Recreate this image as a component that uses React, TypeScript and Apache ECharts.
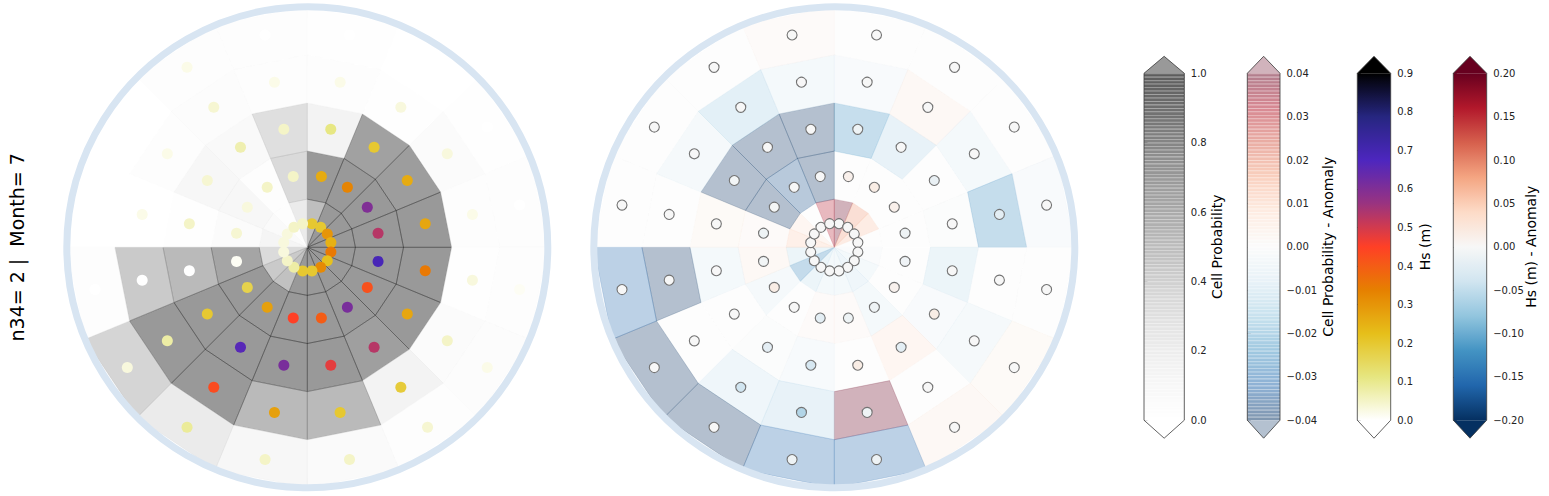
import React, { useEffect, useRef } from "react";
import * as echarts from "echarts";

// ---------------- data (sectors clockwise from north, 22.5° each; rings inner -> outer) --------------
const SECTORS = 16;
const SECTOR_DEG = 360 / SECTORS;

// Cell probability (left panel)
const probRing0 = [0.71, 1, 1, 1, 1, 1, 1, 1, 1, 0.68, 0.6, 0.45, 0.18, 0.1, 0.04, 0.3];
const probRing1 = [1, 1, 1, 1, 1, 1, 1, 1, 1, 1, 1, 0.9, 0.08, 0.16, 0.03, 0.46];
const probRing2 = [0.2, 0.93, 0.97, 1, 1, 1, 0.95, 1, 1, 1, 1, 0.75, 0.02, 0.16, 0.12, 0.42];
const probRing3 = [0.03, 0.02, 0.08, 0.05, 0.02, 0.08, 0.2, 0.75, 0.75, 1, 1, 0.6, 0.01, 0.03, 0.06, 0.03];
const probRing4 = [0.02, 0.01, 0.02, 0.05, 0.03, 0.06, 0.05, 0.1, 0.16, 0.3, 0.5, 0.04, 0.01, 0.01, 0.03, 0.03];

// Hs (m) (left panel dots)
const hsRing0 = [0.2, 0.2, 0.3, 0.25, 0.35, 0.22, 0.32, 0.2, 0.2, 0.08, 0.05, 0.03, 0.03, 0.03, 0.05, 0.05];
const hsRing1 = [0.26, 0.33, 0.6, 0.53, 0.69, 0.42, 0.61, 0.4, 0.45, 0.28, 0.17, 0.01, 0.04, 0.03, 0.05, 0.05];
const hsRing2 = [0.11, 0.2, 0.26, 0.27, 0.35, 0.27, 0.53, 0.48, 0.61, 0.66, 0.2, 0.0, 0.05, 0.04, 0.07, 0.05];
const hsRing3 = [0.02, 0.03, 0.03, 0.02, 0.03, 0.05, 0.19, 0.2, 0.28, 0.43, 0.08, 0.0, 0.02, 0.02, 0.04, 0.02];
const hsRing4 = [0, 0, 0, 0, 0.01, 0.02, 0.04, 0.05, 0.05, 0.09, 0.03, 0.0, 0, 0, 0.02, 0];

// Cell probability anomaly (right panel)
const anomRing0 = [0.04, 0.018, 0.012, 0, -0.002, -0.006, -0.009, -0.006, -0.006, -0.01, -0.026, -0.01, 0.01, 0.006, 0, 0.032];
const anomRing1 = [0, 0, 0, 0, 0, 0, -0.006, 0.002, 0.002, 0, -0.005, 0.004, 0.002, -0.04, -0.036, -0.04];
const anomRing2 = [-0.024, -0.012, 0, -0.001, -0.01, -0.003, 0.006, 0, -0.004, -0.001, 0, -0.006, 0.003, -0.04, -0.04, -0.04];
const anomRing3 = [-0.003, 0.004, -0.006, -0.025, 0, -0.005, 0, 0.04, -0.012, -0.009, 0, -0.04, 0, -0.005, -0.014, -0.006];
const anomRing4 = [0, 0, 0, -0.003, 0, 0.003, 0.004, -0.032, -0.032, -0.04, -0.04, -0.032, 0, 0, 0, 0.002];

// Hs anomaly (right panel dots)
const dHsRing0 = [0, 0, 0, 0, 0, 0, 0, 0, 0, 0, 0, 0, 0, 0, 0, 0];
const dHsRing1 = [0.01, 0.015, 0.01, -0.01, -0.008, 0.008, -0.01, -0.01, -0.02, 0, 0.015, -0.005, -0.01, -0.003, 0, 0];
const dHsRing2 = [-0.01, 0, -0.015, 0, 0, 0.015, -0.02, 0.015, -0.035, -0.02, 0, 0, 0, -0.005, 0, 0];
const dHsRing3 = [0, 0, 0, -0.02, 0, 0, 0, -0.01, -0.06, -0.04, 0, 0, 0, 0, 0, 0];
const dHsRing4 = [0, 0, 0, 0, 0, 0, 0, -0.01, -0.01, 0, 0, 0, 0, 0, 0, 0];

const probRings = [probRing0, probRing1, probRing2, probRing3, probRing4];
const hsRings = [hsRing0, hsRing1, hsRing2, hsRing3, hsRing4];
const anomRings = [anomRing0, anomRing1, anomRing2, anomRing3, anomRing4];
const dHsRings = [dHsRing0, dHsRing1, dHsRing2, dHsRing3, dHsRing4];

// colour scales
const GREYS = ["#ffffff", "#f0f0f0", "#d9d9d9", "#bdbdbd", "#969696", "#737373", "#525252", "#252525", "#000000"];
const CMRMAP_R = ["#ffffff", "#e6e680", "#e6bf1a", "#e68000", "#ff4026", "#993380", "#4d26bf", "#262680", "#000000"];
const RDBU_R = ["#053061", "#2166ac", "#4393c3", "#92c5de", "#d1e5f0", "#f7f7f7", "#fddbc7", "#f4a582", "#d6604d", "#b2182b", "#67001f"];

const TITLE = "n34= 2 |  Month= 7";

// ---------------- helpers ----------------
function hexToRgb(h: string) {
  const n = parseInt(h.slice(1), 16);
  return [(n >> 16) & 255, (n >> 8) & 255, n & 255];
}
function sample(stops: string[], t: number) {
  const tt = Math.max(0, Math.min(1, t));
  const pos = tt * (stops.length - 1);
  const i = Math.min(Math.floor(pos), stops.length - 2);
  const f = pos - i;
  const a = hexToRgb(stops[i]);
  const b = hexToRgb(stops[i + 1]);
  return a.map((v, k) => v + (b[k] - v) * f);
}
function blend(rgb: number[], a: number) {
  return rgb.map((v) => 255 - a * (255 - v));
}
function css(rgb: number[]) {
  return `rgb(${rgb.map((v) => Math.round(v)).join(",")})`;
}

function cellData(rings: number[][]) {
  const out: number[][] = [];
  rings.forEach((vals, j) => vals.forEach((v, k) => out.push([j, k * SECTOR_DEG, v])));
  return out;
}
function dotData(rings: number[][]) {
  const out: number[][] = [];
  rings.forEach((vals, j) => vals.forEach((v, k) => out.push([j + 0.5, k * SECTOR_DEG + SECTOR_DEG / 2, v])));
  return out;
}

function cellRenderer(alpha: number) {
  return (params: any, api: any) => {
    const r0 = api.value(0);
    const a0 = api.value(1);
    const r1 = r0 + 1;
    const a1 = a0 + SECTOR_DEG;
    const pts = [api.coord([r0, a0]), api.coord([r1, a0]), api.coord([r1, a1]), api.coord([r0, a1])];
    const c = echarts.color.modifyAlpha(api.visual("color"), alpha);
    return {
      type: "polygon",
      shape: { points: pts },
      style: { fill: c, stroke: c, lineWidth: 0.6 },
    };
  };
}

// ---------------- layout (page pixel coordinates; the chart div is fixed at 0,0) ----------------
const POLAR_RADIUS = 240.5;
const LEFT_CENTER = [307.3, 247.3];
const RIGHT_CENTER = [834.3, 247.3];
const CB_TOP = 73.3;
const CB_BOT = 420.2;
const TRI_UP = 17;
const TRI_DN = 18;
const FONT = "DejaVu Sans";

type CB = {
  x: number; w: number; stops: string[]; alpha: number | null; label: string; labelX: number;
  min: number; max: number; interval: number; dec: number;
};
const colorbars: CB[] = [
  { x: 1144, w: 40.3, stops: GREYS, alpha: 0.4, label: "Cell Probability", labelX: 1217, min: 0, max: 1, interval: 0.2, dec: 1 },
  { x: 1247.3, w: 32.7, stops: RDBU_R, alpha: 0.3, label: "Cell Probability - Anomaly", labelX: 1328, min: -0.04, max: 0.04, interval: 0.01, dec: 2 },
  { x: 1357.3, w: 33.4, stops: CMRMAP_R, alpha: null, label: "Hs (m)", labelX: 1425, min: 0, max: 0.9, interval: 0.1, dec: 1 },
  { x: 1453.3, w: 33.4, stops: RDBU_R, alpha: null, label: "Hs (m) - Anomaly", labelX: 1531, min: -0.2, max: 0.2, interval: 0.05, dec: 2 },
];

function colorbarGraphics(cb: CB) {
  const els: any[] = [];
  const x0 = cb.x;
  const x1 = cb.x + cb.w;
  const xm = (x0 + x1) / 2;
  const H = CB_BOT - CB_TOP;
  if (cb.alpha !== null) {
    const a = cb.alpha;
    const a2 = 1 - (1 - a) * (1 - a);
    const N = 100;
    const bh = H / N;
    for (let i = 0; i < N; i++) {
      const t = (i + 0.5) / N;
      const yTop = CB_BOT - (i + 1) * bh;
      const base = sample(cb.stops, t);
      els.push({ type: "rect", z: 100, silent: true, shape: { x: x0, y: yTop, width: cb.w, height: bh + 0.05 }, style: { fill: css(blend(base, a2)) } });
      els.push({ type: "rect", z: 101, silent: true, shape: { x: x0, y: yTop, width: cb.w, height: 0.9 }, style: { fill: css(blend(base, a)) } });
    }
    els.push({ type: "polygon", z: 100, silent: true, shape: { points: [[x0, CB_TOP], [xm, CB_TOP - TRI_UP], [x1, CB_TOP]] }, style: { fill: css(blend(sample(cb.stops, 1), a)) } });
    els.push({ type: "polygon", z: 100, silent: true, shape: { points: [[x0, CB_BOT], [xm, CB_BOT + TRI_DN], [x1, CB_BOT]] }, style: { fill: css(blend(sample(cb.stops, 0), a)) } });
  } else {
    const colorStops = [];
    const M = 40;
    for (let i = 0; i <= M; i++) colorStops.push({ offset: i / M, color: css(sample(cb.stops, i / M)) });
    els.push({ type: "rect", z: 100, silent: true, shape: { x: x0, y: CB_TOP, width: cb.w, height: H }, style: { fill: new echarts.graphic.LinearGradient(0, 1, 0, 0, colorStops) } });
    els.push({ type: "polygon", z: 100, silent: true, shape: { points: [[x0, CB_TOP], [xm, CB_TOP - TRI_UP], [x1, CB_TOP]] }, style: { fill: cb.stops[cb.stops.length - 1] } });
    els.push({ type: "polygon", z: 100, silent: true, shape: { points: [[x0, CB_BOT], [xm, CB_BOT + TRI_DN], [x1, CB_BOT]] }, style: { fill: cb.stops[0] } });
  }
  els.push({
    type: "polygon", z: 102, silent: true,
    shape: { points: [[x0, CB_TOP], [xm, CB_TOP - TRI_UP], [x1, CB_TOP], [x1, CB_BOT], [xm, CB_BOT + TRI_DN], [x0, CB_BOT]] },
    style: { fill: "none", stroke: "#3a3a3a", lineWidth: 0.8 },
  });
  els.push({
    type: "text", z: 102, silent: true, x: cb.labelX, y: (CB_TOP + CB_BOT) / 2, rotation: Math.PI / 2,
    style: { text: cb.label, fontSize: 14, fontFamily: FONT, fill: "#000", align: "center", verticalAlign: "middle", textAlign: "center", textVerticalAlign: "middle" },
  });
  return els;
}

function tickFormatter(dec: number) {
  return (v: number) => {
    const s = Math.abs(v).toFixed(dec);
    return (v < -1e-9 && Number(s) !== 0 ? "\u2212" : "") + s;
  };
}

function buildOption() {
  const angleAxisBase = {
    type: "value", min: 0, max: 360, startAngle: 90, clockwise: true, z: 10,
    axisLine: { show: true, lineStyle: { color: "#d8e5f2", width: 7 } },
    axisTick: { show: false }, axisLabel: { show: false }, splitLine: { show: false }, splitArea: { show: false },
  };
  const radiusAxisBase = {
    type: "value", min: 0, max: 5,
    axisLine: { show: false }, axisTick: { show: false }, axisLabel: { show: false }, splitLine: { show: false }, splitArea: { show: false },
  };

  const grids = colorbars.map((cb) => ({ left: cb.x, top: CB_TOP, width: cb.w, height: CB_BOT - CB_TOP }));
  const xAxes = colorbars.map((_, i) => ({ gridIndex: i, type: "value", show: false, min: 0, max: 1 }));
  const yAxes = colorbars.map((cb, i) => ({
    gridIndex: i, type: "value", position: "right", min: cb.min, max: cb.max, interval: cb.interval,
    axisLine: { show: false },
    axisTick: { show: true, inside: false, length: 3.5, lineStyle: { color: "#222", width: 0.8 } },
    axisLabel: { show: true, margin: 6.5, color: "#222", fontSize: 10, fontFamily: FONT, formatter: tickFormatter(cb.dec) },
    splitLine: { show: false },
  }));

  const graphics: any[] = [];
  colorbars.forEach((cb) => graphics.push(...colorbarGraphics(cb)));
  graphics.push({
    type: "text", x: 17, y: 247.3, rotation: Math.PI / 2, silent: true,
    style: { text: TITLE, fontSize: 19, fontFamily: FONT, fill: "#000", align: "center", verticalAlign: "middle", textAlign: "center", textVerticalAlign: "middle" },
  });

  return {
    animation: false,
    backgroundColor: "#ffffff",
    polar: [
      { center: LEFT_CENTER, radius: POLAR_RADIUS },
      { center: RIGHT_CENTER, radius: POLAR_RADIUS },
    ],
    angleAxis: [
      { ...angleAxisBase, polarIndex: 0 },
      { ...angleAxisBase, polarIndex: 1 },
    ],
    radiusAxis: [
      { ...radiusAxisBase, polarIndex: 0 },
      { ...radiusAxisBase, polarIndex: 1 },
    ],
    grid: grids,
    xAxis: xAxes,
    yAxis: yAxes,
    visualMap: [
      { type: "continuous", show: false, seriesIndex: 0, dimension: 2, min: 0, max: 1, inRange: { color: GREYS } },
      { type: "continuous", show: false, seriesIndex: 1, dimension: 2, min: 0, max: 0.9, inRange: { color: CMRMAP_R } },
      { type: "continuous", show: false, seriesIndex: 2, dimension: 2, min: -0.04, max: 0.04, inRange: { color: RDBU_R } },
      { type: "continuous", show: false, seriesIndex: 3, dimension: 2, min: -0.2, max: 0.2, inRange: { color: RDBU_R } },
    ],
    series: [
      { type: "custom", coordinateSystem: "polar", polarIndex: 0, silent: true, renderItem: cellRenderer(0.4), data: cellData(probRings), z: 2 },
      { type: "scatter", coordinateSystem: "polar", polarIndex: 0, silent: true, symbolSize: 11, itemStyle: { opacity: 1, borderWidth: 0 }, data: dotData(hsRings), z: 3 },
      { type: "custom", coordinateSystem: "polar", polarIndex: 1, silent: true, renderItem: cellRenderer(0.3), data: cellData(anomRings), z: 2 },
      { type: "scatter", coordinateSystem: "polar", polarIndex: 1, silent: true, symbolSize: 10, itemStyle: { opacity: 1, borderColor: "#737373", borderWidth: 1.1 }, data: dotData(dHsRings), z: 3 },
    ],
    graphic: graphics,
  };
}

export default function App() {
  const ref = useRef<HTMLDivElement>(null);
  useEffect(() => {
    if (!ref.current) return;
    const chart = echarts.init(ref.current, undefined, { renderer: "svg" });
    chart.setOption(buildOption() as any);
    return () => chart.dispose();
  }, []);
  return <div ref={ref} style={{ position: "fixed", left: 0, top: 0, width: 1549, height: 496 }} />;
}
